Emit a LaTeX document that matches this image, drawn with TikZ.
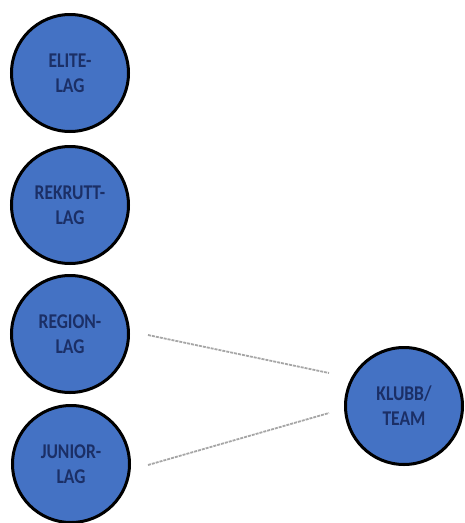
\documentclass[tikz,border=0pt]{standalone}
\usepackage{fontspec}
\setmainfont{Carlito}
\usetikzlibrary{calc}
\definecolor{fillblue}{HTML}{4472C4}
\definecolor{textblue}{HTML}{1B2F66}
\definecolor{linegray}{HTML}{A6A6A6}
\newcommand{\tallText}[1]{\scalebox{1}[1.2]{#1}}
\tikzset{
  lagcircle/.style={circle, draw=black, line width=3pt, fill=fillblue,
    minimum size=117pt, inner sep=0pt, align=center, text=textblue,
    font=\fontsize{17.5}{25}\selectfont\bfseries},
  link/.style={draw=linegray, line width=1.8pt, dash pattern=on 3pt off 1pt}
}
\begin{document}
\begin{tikzpicture}[x=1pt,y=-1pt]
\useasboundingbox (0,0) rectangle (464,523);
\node[lagcircle] (elite) at (70,73) {\tallText{ELITE-}\\\tallText{LAG}};
\node[lagcircle] (rekrutt) at (70,205) {\tallText{REKRUTT-}\\\tallText{LAG}};
\node[lagcircle] (region) at (70,334) {\tallText{REGION-}\\\tallText{LAG}};
\node[lagcircle] (junior) at (71,464) {\tallText{JUNIOR-}\\\tallText{LAG}};
\node[lagcircle] (klubb) at (404,406) {\tallText{KLUBB/}\\\tallText{TEAM}};
\draw[link] ([xshift=18pt,yshift=-1pt]region.east) -- ([xshift=-15pt,yshift=33pt]klubb.west);
\draw[link] ([xshift=17pt,yshift=-1pt]junior.east) -- ([xshift=-15pt,yshift=-7pt]klubb.west);
\end{tikzpicture}
\end{document}
